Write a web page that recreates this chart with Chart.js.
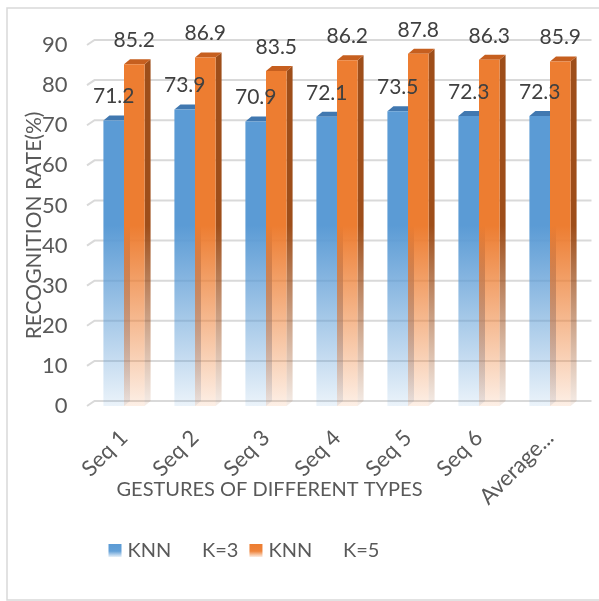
<!DOCTYPE html>
<html>
<head>
<meta charset="utf-8">
<title>KNN recognition rate by gesture sequence</title>
<script src="https://cdn.jsdelivr.net/npm/chart.js@4.4.1/dist/chart.umd.min.js"></script>
<style>
  html, body { margin: 0; padding: 0; background: #ffffff; }
  canvas { display: block; }
</style>
</head>
<body>
<canvas id="chart" width="599" height="601"></canvas>
<script>
// ---- data ----
const categories = ['Seq 1', 'Seq 2', 'Seq 3', 'Seq 4', 'Seq 5', 'Seq 6', 'Average...'];
const knnK3 = [71.2, 73.9, 70.9, 72.1, 73.5, 72.3, 72.3];
const knnK5 = [85.2, 86.9, 83.5, 86.2, 87.8, 86.3, 85.9];
const seriesLabels = ['KNN      K=3', 'KNN      K=5'];
const yTickMin = 0, yTickMax = 90, yTickStep = 10;
const xAxisTitle = 'GESTURES OF DIFFERENT TYPES';
const yAxisTitle = 'RECOGNITION RATE(%)';

// ---- look ----
const FONT = 'Lato, "Open Sans", sans-serif';
const DEPTH_X = 6, DEPTH_Y = 5;          // extrusion of the 3D columns
const FADE_TOP = 45;                      // value above which columns are fully opaque
const frontRGB = ['91,155,213', '237,125,49'];
const sideRGB  = ['62,110,165', '158,78,26'];
const topColor = ['#4178b0', '#c65f1f'];

function fadeGradient(chart, rgb, bottomAlpha) {
  const y = chart.scales.y;
  const g = chart.ctx.createLinearGradient(0, y.getPixelForValue(0), 0, y.getPixelForValue(FADE_TOP));
  g.addColorStop(0, `rgba(${rgb},${bottomAlpha})`);
  g.addColorStop(1, `rgba(${rgb},1)`);
  return g;
}

function frontFill(i) {
  return (ctx) => {
    const chart = ctx.chart;
    if (!chart.chartArea || !chart.scales.y) return `rgb(${frontRGB[i]})`;
    return fadeGradient(chart, frontRGB[i], 0.12);
  };
}

// white page with a thin frame
const framePlugin = {
  id: 'frame',
  beforeDraw(chart) {
    const c = chart.ctx;
    c.save();
    c.fillStyle = '#ffffff';
    c.fillRect(0, 0, chart.width, chart.height);
    c.strokeStyle = '#d9d9d9';
    c.lineWidth = 1.5;
    c.strokeRect(7, 8, chart.width + 10, chart.height - 9);
    c.restore();
  }
};

// back-wall gridlines plus the side and top faces of each column
const depthPlugin = {
  id: 'depth3d',
  beforeDatasetsDraw(chart) {
    const c = chart.ctx;
    const area = chart.chartArea;
    const ys = chart.scales.y;
    c.save();
    // gridlines on the back wall with a short slanted floor edge on the left
    ys.ticks.forEach(t => {
      const yf = ys.getPixelForValue(t.value);
      c.strokeStyle = '#d9d9d9';
      c.lineWidth = 2;
      c.beginPath();
      c.moveTo(area.left - 1.5, yf);
      c.lineTo(area.left + DEPTH_X, yf - DEPTH_Y);
      c.lineTo(area.right + DEPTH_X, yf - DEPTH_Y);
      c.stroke();
    });
    chart.data.datasets.forEach((ds, i) => {
      const meta = chart.getDatasetMeta(i);
      if (meta.hidden) return;
      const sideFill = fadeGradient(chart, sideRGB[i], 0.1);
      meta.data.forEach(bar => {
        const p = bar.getProps(['x', 'y', 'base', 'width'], true);
        const l = p.x - p.width / 2, r = p.x + p.width / 2;
        // side face
        c.fillStyle = sideFill;
        c.beginPath();
        c.moveTo(r, p.y);
        c.lineTo(r + DEPTH_X, p.y - DEPTH_Y);
        c.lineTo(r + DEPTH_X, p.base - DEPTH_Y);
        c.lineTo(r, p.base);
        c.closePath();
        c.fill();
        // top face
        c.fillStyle = topColor[i];
        c.beginPath();
        c.moveTo(l, p.y);
        c.lineTo(l + DEPTH_X, p.y - DEPTH_Y);
        c.lineTo(r + DEPTH_X, p.y - DEPTH_Y);
        c.lineTo(r, p.y);
        c.closePath();
        c.fill();
      });
    });
    c.restore();
  }
};

// value above each column
const valueLabelPlugin = {
  id: 'valueLabels',
  afterDatasetsDraw(chart) {
    const c = chart.ctx;
    c.save();
    c.font = `21px ${FONT}`;
    c.fillStyle = '#404040';
    c.textAlign = 'center';
    c.textBaseline = 'middle';
    chart.data.datasets.forEach((ds, i) => {
      const meta = chart.getDatasetMeta(i);
      meta.data.forEach((bar, j) => {
        const p = bar.getProps(['x', 'y'], true);
        c.fillText(ds.data[j].toFixed(1), p.x, p.y - 24);
      });
    });
    c.restore();
  }
};

// category axis title and the legend row underneath
const bottomTextPlugin = {
  id: 'bottomText',
  afterDraw(chart) {
    const c = chart.ctx;
    const area = chart.chartArea;
    c.save();
    c.fillStyle = '#595959';
    c.font = `20px ${FONT}`;
    c.textAlign = 'center';
    c.textBaseline = 'middle';
    c.fillText(xAxisTitle, area.left + 181, 490);

    // legend
    c.font = `20px ${FONT}`;
    c.textAlign = 'left';
    let x = area.left + 20;
    const boxTop = 544, box = 13, midY = 551;
    chart.data.datasets.forEach((ds, i) => {
      const g = c.createLinearGradient(0, boxTop, 0, boxTop + box);
      g.addColorStop(0, `rgba(${frontRGB[i]},1)`);
      g.addColorStop(0.55, `rgba(${frontRGB[i]},0.95)`);
      g.addColorStop(1, `rgba(${frontRGB[i]},0.15)`);
      c.fillStyle = g;
      c.fillRect(x, boxTop, box, box);
      x += box + 6;
      c.fillStyle = '#595959';
      c.fillText(ds.label, x, midY);
      x += c.measureText(ds.label).width + 11;
    });
    c.restore();
  }
};

new Chart(document.getElementById('chart'), {
  type: 'bar',
  data: {
    labels: categories,
    datasets: [
      { label: seriesLabels[0], data: knnK3, backgroundColor: frontFill(0), borderWidth: 0 },
      { label: seriesLabels[1], data: knnK5, backgroundColor: frontFill(1), borderWidth: 0 }
    ]
  },
  options: {
    responsive: false,
    animation: false,
    events: [],
    layout: { padding: { top: 45, right: 13.5, left: 0, bottom: 0 } },
    datasets: { bar: { categoryPercentage: 0.58, barPercentage: 1.0 } },
    plugins: {
      legend: { display: false },
      tooltip: { enabled: false },
      title: { display: false }
    },
    scales: {
      x: {
        grid: { display: false, drawTicks: false },
        border: { display: false },
        ticks: {
          color: '#595959',
          font: { family: FONT, size: 22 },
          maxRotation: 45,
          minRotation: 45,
          padding: 19,
          autoSkip: false
        },
        afterFit(scale) { scale.height = 195; }
      },
      y: {
        min: yTickMin,
        max: yTickMax,
        grid: { display: false, drawTicks: false },
        border: { display: false },
        ticks: {
          stepSize: yTickStep,
          color: '#595959',
          font: { family: FONT, size: 22 },
          padding: 21
        },
        title: {
          display: true,
          text: yAxisTitle,
          color: '#595959',
          font: { family: FONT, size: 21 },
          padding: { top: 22, bottom: 0 }
        },
        afterFit(scale) { scale.width = 88.5; }
      }
    }
  },
  plugins: [framePlugin, depthPlugin, valueLabelPlugin, bottomTextPlugin]
});
</script>
</body>
</html>
